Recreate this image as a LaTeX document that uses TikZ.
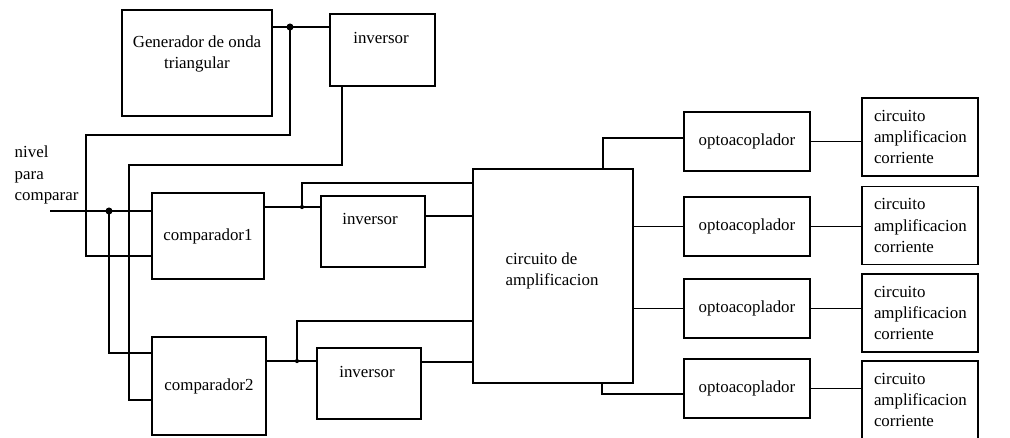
\documentclass[tikz,border=0pt]{standalone}
\usepackage{fontspec}
\setmainfont{Liberation Serif}
\usetikzlibrary{positioning, calc}

\begin{document}
\begin{tikzpicture}[x=0.025cm, y=-0.025cm, line width=1pt,
          every node/.style={font=\fontsize{12}{15}\selectfont},
          b/.style={draw, inner sep=0pt},
          t/.style={inner sep=0pt, align=left},
          jn/.style={circle, fill, inner sep=0pt, minimum size=#1}]
  \useasboundingbox (0,0) rectangle (1010,437);
  % bloques
  \node[b, minimum width=3.75cm, minimum height=2.65cm] (gen) at (197,63) {};
  \node[b, minimum width=2.625cm, minimum height=1.8cm] (inv1) at (382.5,50) {};
  \node[b, minimum width=2.8cm, minimum height=2.15cm] (comp1) at (208,236) {comparador1};
  \node[b, minimum width=2.6cm, minimum height=1.775cm] (inv2) at (373,231.5) {};
  \node[b, minimum width=2.85cm, minimum height=2.45cm] (comp2) at (209,386) {comparador2};
  \node[b, minimum width=2.6cm, minimum height=1.775cm] (inv3) at (369,383.5) {};
  \node[b, minimum width=4cm, minimum height=5.35cm] (amp) at (553,276) {};
  \foreach \i/\y in {1/141.5, 2/226.5, 3/308.5, 4/388.5}
    \node[b, minimum width=3.15cm, minimum height=1.475cm] (opto\i) at (747,\y) {optoacoplador};
  \foreach \i/\y in {1/137, 2/225.5, 3/313, 4/400}
    \node[b, minimum width=2.9cm, minimum height=1.95cm, text width=2.3cm, inner xsep=0.3cm, align=left] (circ\i) at (920,\y) {circuito\\amplificacion\\corriente};
  % textos
  \node[t, align=center] (gen-t) at (197,54) {Generador de onda\\triangular};
  \node[t] (inv1-t) at (381,38) {inversor};
  \node[t] (inv2-t) at (370,219) {inversor};
  \node[t] (inv3-t) at (367,372) {inversor};
  \node[t, anchor=west] (amp-t) at (505,270.5) {circuito de\\amplificacion};
  \node[t, anchor=west] (lvl-t) at (14,175) {nivel\\para\\comparar};
  % uniones
  \node[jn=5pt] (ja) at (290,27) {};
  \node[jn=5pt] (jb) at (109,211) {};
  \node[jn=3pt] (jc) at (302,207) {};
  \node[jn=3pt] (jd) at (297,361) {};
  \coordinate (lvl) at (50,211);
  % conexiones
  \draw (gen.east |- ja) -- (inv1.west |- ja);
  \draw (ja.center) |- (86,135) |- (comp1.west |- 0,256);
  \draw (inv1.south -| 342,0) |- (129,165) |- (comp2.west |- 0,400);
  \draw (lvl) -- (comp1.west |- lvl);
  \draw (jb.center) |- (comp2.west |- 0,353);
  \draw (comp1.east |- jc) -- (inv2.west |- jc);
  \draw (jc.center) |- (amp.west |- 0,183);
  \draw (inv2.east |- 0,216) -- (amp.west |- 0,216);
  \draw (comp2.east |- jd) -- (inv3.west |- jd);
  \draw (jd.center) |- (amp.west |- 0,321);
  \draw (inv3.east |- 0,362) -- (amp.west |- 0,362);
  \draw (amp.north -| 603,0) |- (opto1.west |- 0,138);
  \draw (amp.east |- opto2) -- (opto2);
  \draw (amp.east |- opto3) -- (opto3);
  \draw (amp.south -| 602,0) |- (opto4.west |- 0,394);
  \foreach \i in {1,...,4}
    \draw (opto\i) -- (circ\i.west |- opto\i);
\end{tikzpicture}
\end{document}
